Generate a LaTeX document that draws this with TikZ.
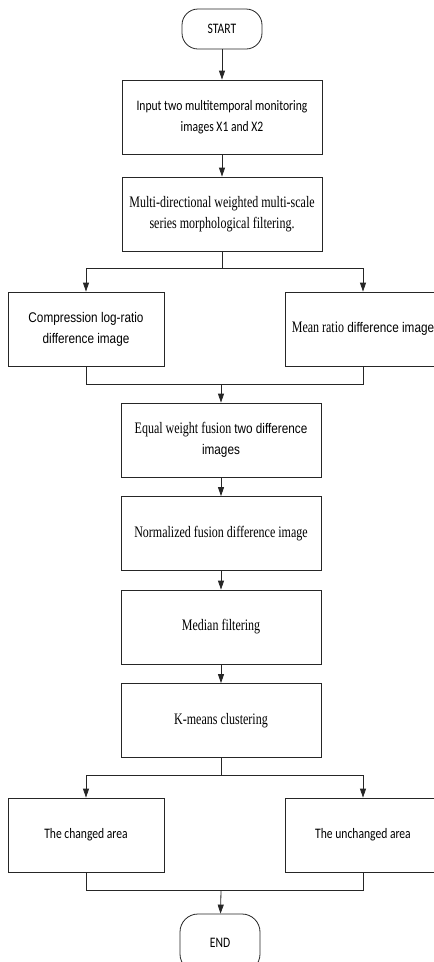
\documentclass[tikz,border=0pt]{standalone}
\usepackage{fontspec}
\setmainfont{Liberation Serif}
\newfontfamily\fcal[FakeStretch=0.8]{Carlito}
\newfontfamily\ftnr[FakeStretch=0.75]{Liberation Serif}
\newfontfamily\farl[FakeStretch=0.84]{Liberation Sans}
\usetikzlibrary{arrows.meta}
\begin{document}
\begin{tikzpicture}[x=1pt,y=-1pt,
  box/.style={draw=black!85, line width=0.8pt, minimum width=200pt, minimum height=74pt, align=center, inner sep=2pt},
  sidebox/.style={box, minimum width=156pt},
  term/.style={draw=black!85, line width=0.8pt, rounded corners=16pt, minimum width=80pt, minimum height=40pt, align=center},
  flow/.style={draw=black!85, line width=0.8pt, -{Triangle[width=6pt,length=9pt]}},
  ln/.style={draw=black!85, line width=0.8pt},
  cal/.style={font=\fcal\fontsize{14.5}{21}\selectfont},
  tnr/.style={font=\ftnr\fontsize{16}{21}\selectfont},
  arl/.style={font=\farl\fontsize{14}{21}\selectfont}]
\useasboundingbox (0,0) rectangle (434,962);
\clip (0,0) rectangle (434,962);
\fill[white] (0,0) rectangle (434,962);

\node[term, cal] (start) at (222,29) {START};
\node[box, cal] (input) at (222,117) {Input two multitemporal monitoring\\images X1 and X2};
\node[box, tnr] (morph) at (222,214) {Multi-directional weighted multi-scale\\series morphological filtering.};
\node[sidebox, arl] (left1) at (86,329) {Compression log-ratio\\difference image};
\node[sidebox, arl] (right1) at (363,329) {{\ftnr\fontsize{16}{21}\selectfont Mean ratio} difference image};
\node[box, tnr] (fuse) at (221,440) {Equal weight fusion {\farl\fontsize{14}{21}\selectfont two difference}\\{\farl\fontsize{14}{21}\selectfont images}};
\node[box, tnr] (norm) at (221,533.5) {Normalized fusion difference image};
\node[box, tnr] (median) at (221,627) {Median filtering};
\node[box, tnr] (kmeans) at (221,720.5) {K-means clustering};
\node[sidebox, cal] (left2) at (86,835) {The changed area};
\node[sidebox, cal] (right2) at (363,835) {The unchanged area};
\node[term, cal, minimum height=58pt, rounded corners=18pt] (end) at (220,943) {END};

\coordinate (b1) at (222,268);
\coordinate (m1) at (221,384);
\coordinate (b2) at (221,775);
\coordinate (m2) at (221,890);

\draw[flow] (start) -- (input);
\draw[flow] (input) -- (morph);
\draw[ln] (morph.south) -- (b1);
\draw[flow] (b1) -| (left1.north);
\draw[flow] (b1) -| (right1.north);
\draw[ln] (left1.south) |- (m1);
\draw[ln] (right1.south) |- (m1);
\draw[flow] (m1) -- (fuse);
\draw[flow] (fuse) -- (norm);
\draw[flow] (norm) -- (median);
\draw[flow] (median) -- (kmeans);
\draw[ln] (kmeans.south) -- (b2);
\draw[flow] (b2) -| (left2.north);
\draw[flow] (b2) -| (right2.north);
\draw[ln] (left2.south) |- (m2);
\draw[ln] (right2.south) |- (m2);
\draw[flow] (m2) -- (end);
\end{tikzpicture}
\end{document}
